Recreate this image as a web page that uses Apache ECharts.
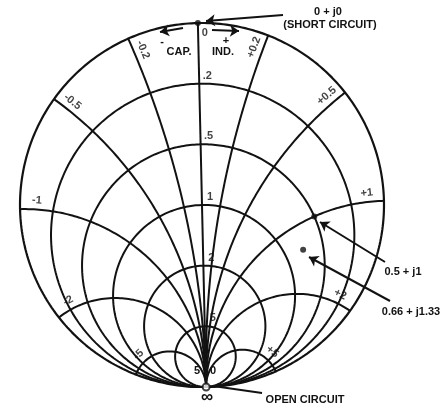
<!DOCTYPE html>
<html>
<head>
<meta charset="utf-8">
<script src="https://cdn.jsdelivr.net/npm/echarts@6/dist/echarts.min.js"></script>
<style>
  html, body { margin: 0; padding: 0; background: #fff; }
  #chart01 { width: 445px; height: 406px; }
</style>
</head>
<body>
<div id="chart01"></div>
<script>
// chart values
var resistances = [0, 0.2, 0.5, 1, 2, 5];
var resistanceLabels = ['0', '.2', '.5', '1', '2', '5'];
var reactances = [-5, -2, -1, -0.5, -0.2, 0.2, 0.5, 1, 2, 5];
var reactanceLabels = ['-5', '-2', '-1', '-0.5', '-0.2', '+0.2', '+0.5', '+1', '+2', '+5'];
var markedPoints = [[0.5, 1], [0.74, 1.29]];

// layout (pixels)
var CX = 202, CY = 205, R = 182;
var ROT = 1.3 * Math.PI / 180;
var INK = '#121212';
var FONT = 'Liberation Sans';

// z -> reflection coefficient
function gamma(r, x) {
  var a = r - 1, c = r + 1;
  var den = c * c + x * x;
  return [(a * c + x * x) / den, (x * c - a * x) / den];
}
// rotated chart: open circuit at bottom, inductive on the right
function toXY(g) {
  var sx = g[1], sy = g[0];
  return [sx * Math.cos(ROT) + sy * Math.sin(ROT), -sx * Math.sin(ROT) + sy * Math.cos(ROT)];
}
function px(x, y) { return [(x - CX) / R, (y - CY) / R]; }

var series = [];

resistances.forEach(function (r) {
  var c = r / (1 + r), rho = 1 / (1 + r), pts = [];
  for (var i = 0; i <= 360; i++) {
    var t = i / 360 * 2 * Math.PI;
    pts.push(toXY([c + rho * Math.cos(t), rho * Math.sin(t)]));
  }
  series.push({
    type: 'line', data: pts, showSymbol: false, clip: false, silent: true,
    lineStyle: { color: INK, width: r === 0 ? 2.2 : 2 }
  });
});

reactances.forEach(function (x) {
  var pts = [];
  for (var i = 0; i < 300; i++) {
    pts.push(toXY(gamma(Math.tan(i / 300 * Math.PI / 2), x)));
  }
  pts.push(toXY([1, 0]));
  series.push({
    type: 'line', data: pts, showSymbol: false, clip: false, silent: true,
    lineStyle: { color: INK, width: 2 }
  });
});

// x = 0 axis
series.push({
  type: 'line', data: [toXY([-1, 0]), toXY([1, 0])], showSymbol: false, clip: false, silent: true,
  lineStyle: { color: INK, width: 2 }
});

// reactance labels along the arcs, a little in from the rim
var xLabelData = reactances.map(function (x, i) {
  var r = 0, dr = 0.001, s = 0, prev = toXY(gamma(0, x)), cur;
  while (s < 0.088) {
    r += dr;
    cur = toXY(gamma(r, x));
    s += Math.hypot(cur[0] - prev[0], cur[1] - prev[1]);
    prev = cur;
  }
  var nxt = toXY(gamma(r + 0.01, x));
  var tx = nxt[0] - cur[0], ty = nxt[1] - cur[1], l = Math.hypot(tx, ty);
  tx /= l; ty /= l;
  var nx = ty, ny = -tx;
  if (ny > 0) { nx = -nx; ny = -ny; }
  var a = Math.atan2(ty, tx) * 180 / Math.PI;
  if (a > 90) a -= 180;
  if (a <= -90) a += 180;
  return {
    value: [cur[0] + nx * 0.05, cur[1] + ny * 0.05],
    label: { formatter: reactanceLabels[i], rotate: -a }
  };
});

var rLabelData = resistances.map(function (r, i) {
  return {
    value: toXY(gamma(r, 0)),
    label: { formatter: resistanceLabels[i], offset: r === 0 ? [7, 10] : [8, -8] }
  };
});

var labelStyle = {
  show: true, position: 'inside', color: INK, fontFamily: FONT,
  fontWeight: 'bold', fontSize: 11, backgroundColor: '#fff', padding: [0, 1]
};

series.push({
  type: 'scatter', data: xLabelData.concat(rLabelData), symbolSize: 1, silent: true,
  itemStyle: { color: 'rgba(0,0,0,0)' }, label: labelStyle
});

// marked points
series.push({
  type: 'scatter', silent: true, symbolSize: 6, itemStyle: { color: INK },
  data: markedPoints.map(function (p) { return toXY(gamma(p[0], p[1])); }).concat([toXY([-1, 0])])
});
series.push({
  type: 'scatter', silent: true, symbolSize: 7, z: 5,
  itemStyle: { color: '#fff', borderColor: INK, borderWidth: 2 },
  data: [toXY([1, 0])]
});

// arrows
series.push({
  type: 'lines', coordinateSystem: 'cartesian2d', silent: true, clip: false,
  symbol: ['none', 'arrow'], symbolSize: 9,
  lineStyle: { color: INK, width: 2, opacity: 1, curveness: 0 },
  data: [
    { coords: [px(283, 15), px(206, 21)] },
    { coords: [px(212, 30), px(239, 31)] },
    { coords: [px(183, 28), px(160, 32)] },
    { coords: [px(385, 262), px(320, 222)] },
    { coords: [px(390, 301), px(309, 257)] }
  ]
});
series.push({
  type: 'lines', coordinateSystem: 'cartesian2d', silent: true, clip: false, symbol: 'none',
  lineStyle: { color: INK, width: 2, opacity: 1, curveness: 0 },
  data: [{ coords: [px(213, 386), px(262, 393)] }]
});

function txt(s, x, y, size) {
  return {
    type: 'text', x: x, y: y, silent: true,
    style: {
      text: s, fill: INK, textAlign: 'center', textVerticalAlign: 'middle',
      font: 'bold ' + (size || 11) + 'px "' + FONT + '"'
    }
  };
}

var chartDom = document.getElementById('chart01');
var myChart = echarts.init(chartDom);
var option = {
  animation: false,
  backgroundColor: '#fff',
  grid: { left: CX - R, top: CY - R, width: 2 * R, height: 2 * R },
  xAxis: { type: 'value', min: -1, max: 1, show: false },
  yAxis: { type: 'value', min: -1, max: 1, inverse: true, show: false },
  series: series,
  graphic: [
    txt('0 + j0', 328, 12),
    txt('(SHORT CIRCUIT)', 330, 25),
    txt('-', 162, 42),
    txt('+', 226, 41),
    txt('CAP.', 179, 52),
    txt('IND.', 223, 52),
    txt('0.5 + j1', 403, 272),
    txt('0.66 + j1.33', 411, 312),
    txt('OPEN CIRCUIT', 305, 400),
    txt('5', 197, 371),
    txt('0', 213, 371),
    txt('\u221e', 207, 397, 17)
  ]
};
option && myChart.setOption(option);
</script>
</body>
</html>
